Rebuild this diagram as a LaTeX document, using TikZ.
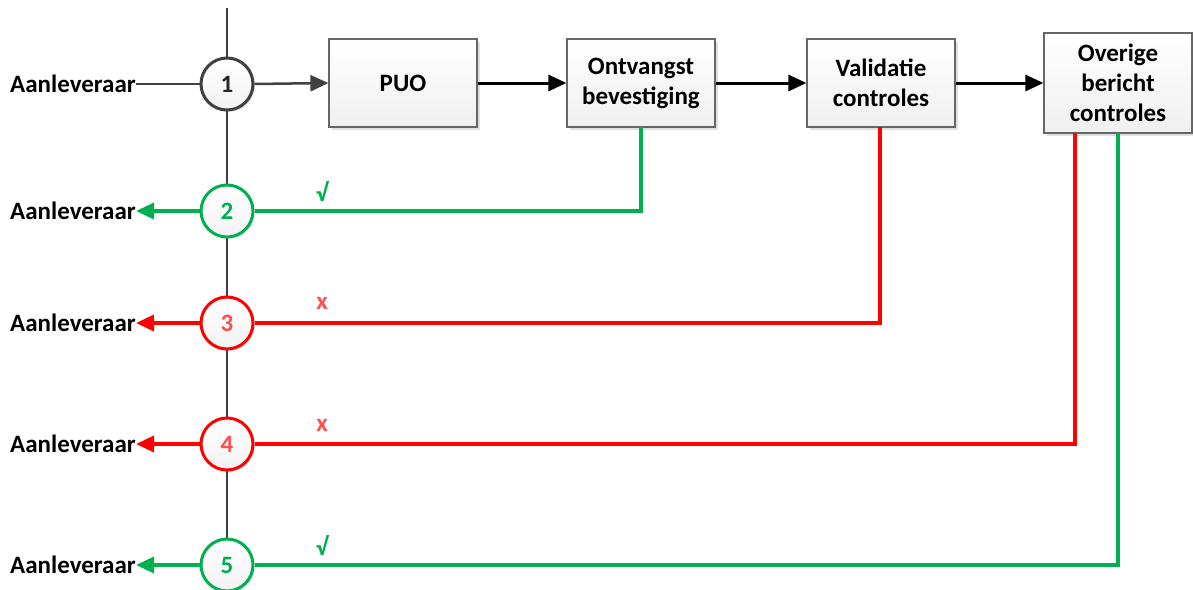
\documentclass[tikz,border=0pt]{standalone}
\usepackage{fontspec}
\setmainfont{Carlito}
\usetikzlibrary{arrows.meta,shadows}
\definecolor{okgreen}{HTML}{00B050}
\definecolor{errred}{HTML}{FF0000}
\definecolor{numred}{HTML}{FF5050}
\definecolor{darkline}{HTML}{404040}
\begin{document}
\begin{tikzpicture}[x=1pt,y=-1pt,
  txt/.style={font=\fontsize{25}{30}\selectfont\bfseries},
  procbox/.style={draw=darkline!80,line width=1.2pt,top color=white,bottom color=gray!12,
    minimum width=148pt,minimum height=88pt,inner sep=0pt,align=center,txt,
    drop shadow={shadow xshift=3pt,shadow yshift=-3pt,opacity=0.25,fill=gray}},
  stepcirc/.style={circle,line width=3pt,minimum size=52pt,inner sep=0pt,top color=white,bottom color=gray!10,txt,
    drop shadow={shadow xshift=2pt,shadow yshift=-2pt,opacity=0.2,fill=gray}},
  lbl/.style={txt,anchor=east,inner sep=0pt},
  tip/.style={-{Triangle[length=18pt,width=16pt]}},
  grayline/.style={draw=darkline,line width=2.5pt},
  blackarrow/.style={draw=black,line width=3pt,tip},
  greenline/.style={draw=okgreen,line width=3.5pt},
  redline/.style={draw=errred,line width=3.5pt},
  greenarrow/.style={greenline,tip},
  redarrow/.style={redline,tip},
  signlabel/.style={txt,inner sep=0pt}
]
\useasboundingbox (0,0) rectangle (1193,589);
% boxes
\node[procbox] (puo) at (403,83) {PUO};
\node[procbox] (ont) at (641,83) {Ontvangst\\bevestiging};
\node[procbox] (val) at (881,83) {Validatie\\controles};
\node[procbox,minimum height=100pt] (ove) at (1118,83) {Overige\\bericht\\controles};
% spine
\coordinate (top) at (227,8);
\draw[grayline] (top) -- (227,565);
% circles
\node[stepcirc,draw=darkline,text=black!85] (c1) at (227,84) {1};
\node[stepcirc,draw=okgreen,text=okgreen] (c2) at (227,211) {2};
\node[stepcirc,draw=errred,text=numred] (c3) at (227,323) {3};
\node[stepcirc,draw=errred,text=numred] (c4) at (227,444) {4};
\node[stepcirc,draw=okgreen,text=okgreen] (c5) at (227,565) {5};
% labels
\node[lbl] (a1) at (136,84) {Aanleveraar};
\node[lbl] (a2) at (136,211) {Aanleveraar};
\node[lbl] (a3) at (136,323) {Aanleveraar};
\node[lbl] (a4) at (136,444) {Aanleveraar};
\node[lbl] (a5) at (136,565) {Aanleveraar};
% main flow
\draw[grayline] (a1.east) -- (c1.west);
\draw[grayline,tip] (c1.east) -- (puo.west);
\draw[blackarrow] (puo.east) -- (ont.west);
\draw[blackarrow] (ont.east) -- (val.west);
\draw[blackarrow] (val.east) -- (ove.west);
% returns
\coordinate (ontb) at (641,127);
\coordinate (valb) at (880,127);
\coordinate (oveb1) at (1075,133);
\coordinate (oveb2) at (1118,133);
\draw[greenline] (ontb) |- (c2.east);
\draw[redline] (valb) |- (c3.east);
\draw[redline] (oveb1) |- (c4.east);
\draw[greenline] (oveb2) |- (c5.east);
\draw[greenarrow] (c2.west) -- (a2.east);
\draw[redarrow] (c3.west) -- (a3.east);
\draw[redarrow] (c4.west) -- (a4.east);
\draw[greenarrow] (c5.west) -- (a5.east);
% marks
\node[signlabel,text=okgreen] (m2) at (322,191) {√};
\node[signlabel,text=numred] (m3) at (322,303) {x};
\node[signlabel,text=numred] (m4) at (322,425) {x};
\node[signlabel,text=okgreen] (m5) at (322,545) {√};
\end{tikzpicture}
\end{document}
